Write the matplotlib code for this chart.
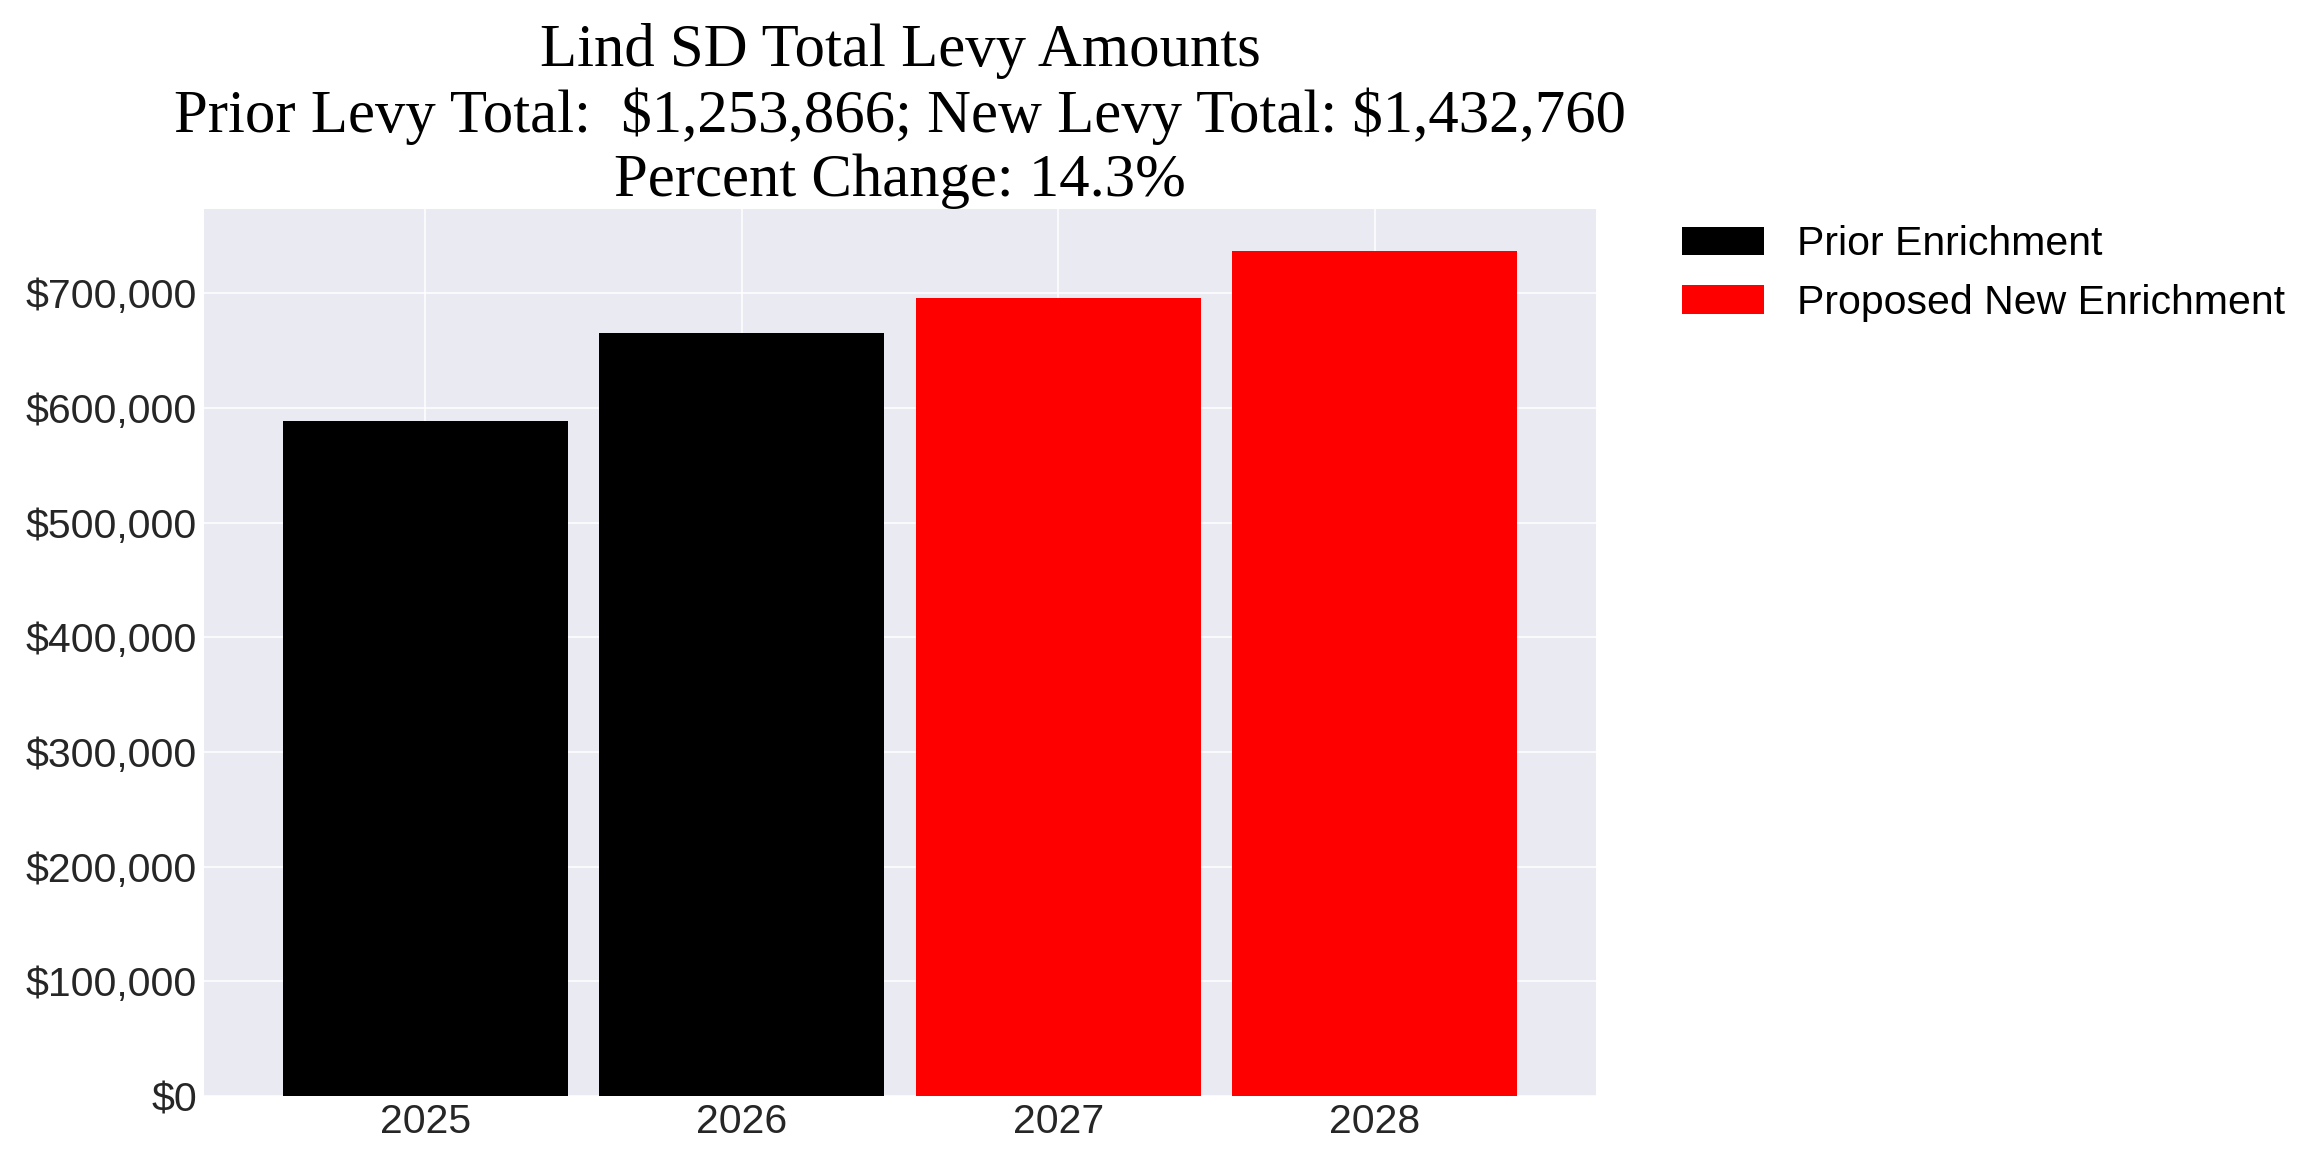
import matplotlib
matplotlib.use("Agg")
import matplotlib.pyplot as plt
from matplotlib.ticker import FuncFormatter

# data
prior_years = ["2025", "2026"]
prior_vals = [588866, 665000]
new_years = ["2027", "2028"]
new_vals = [696000, 736760]

prior_total = sum(prior_vals)
new_total = sum(new_vals)
pct = (new_total - prior_total) / prior_total * 100

plt.style.use("seaborn-v0_8-darkgrid")
plt.rcParams["font.family"] = ["Liberation Sans", "DejaVu Sans"]
plt.rcParams["text.parse_math"] = False

fig = plt.figure(figsize=(16, 8), dpi=144)
ax = fig.add_axes([0.0885, 0.0486, 0.6042, 0.7700])

ax.bar(prior_years, prior_vals, width=0.9, color="black", label="Prior Enrichment")
ax.bar(new_years, new_vals, width=0.9, color="red", label="Proposed New Enrichment")

ax.set_xlim(-0.70, 3.70)
ax.yaxis.set_major_formatter(FuncFormatter(lambda v, p: f"${v:,.0f}"))
ax.tick_params(axis="both", labelsize=20.5, colors="#262626")

title = ("Lind SD Total Levy Amounts\n"
         f"Prior Levy Total:  ${prior_total:,.0f}; New Levy Total: ${new_total:,.0f}\n"
         f"Percent Change: {pct:.1f}%")
ax.set_title(title, fontsize=30.4, color="black",
             family=["Liberation Serif", "DejaVu Serif"])

ax.legend(loc="upper left", bbox_to_anchor=(1.05, 1.0), borderaxespad=0,
          frameon=False, fontsize=20.5, labelcolor="black")

fig.savefig("out.png", dpi=144)
